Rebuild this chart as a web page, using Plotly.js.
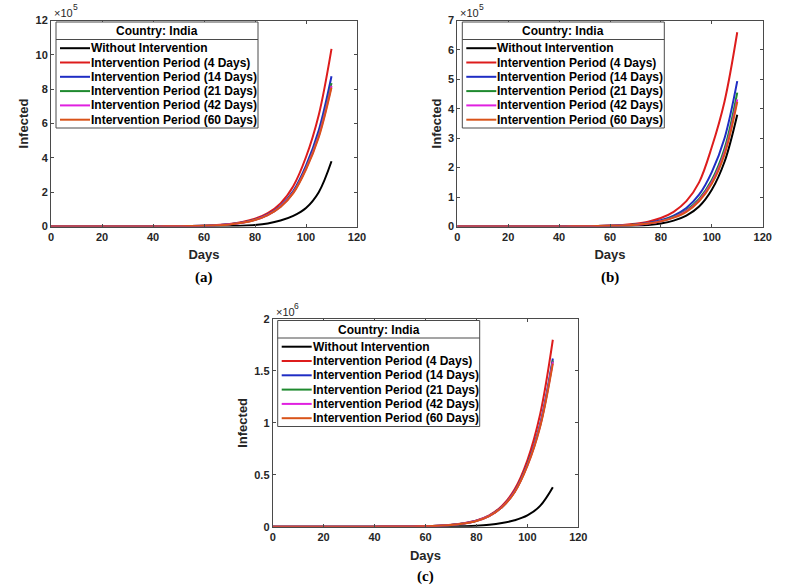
<!DOCTYPE html>
<html><head><meta charset="utf-8">
<script src="https://cdn.plot.ly/plotly-3.0.1.min.js"></script>
<style>html,body{margin:0;padding:0;background:#fff}#chart{width:800px;height:588px}</style>
</head><body><div id="chart"></div>
<script>
// ---------- DATA ----------
const days = [0,5,10,15,20,25,30,35,40,45,50,55,60,65,70,75,80,85,90,95,100,105,110];
const seriesNames = ['Without Intervention','Intervention Period (4 Days)','Intervention Period (14 Days)','Intervention Period (21 Days)','Intervention Period (42 Days)','Intervention Period (60 Days)'];
const seriesColors = ['#000000','#dd1c1c','#1f2dc4','#1f8a2f','#e020e0','#d95319'];
const legendTitle = 'Country: India';
const xTicks = [0,20,40,60,80,100,120];

// Panel (a), values in units of 10^5
const aWithout = [0.0001,0.00015,0.0002,0.0003,0.0004,0.0006,0.0009,0.0013,0.002,0.003,0.0045,0.0068,0.01,0.016,0.026,0.047,0.09,0.18,0.35,0.62,1.08,2.0,3.8];
const a4  = [0.0001,0.0002,0.0003,0.0005,0.0008,0.0013,0.002,0.0035,0.006,0.01,0.017,0.03,0.05,0.085,0.15,0.26,0.45,0.78,1.35,2.35,4.05,6.5,10.35];
const a14 = [0.0001,0.0002,0.0003,0.0005,0.0008,0.0012,0.002,0.0033,0.0055,0.009,0.015,0.026,0.045,0.075,0.13,0.23,0.40,0.70,1.2,2.07,3.55,5.6,8.75];
const a21 = [0.0001,0.0002,0.0003,0.0005,0.0008,0.0012,0.002,0.0033,0.0055,0.009,0.015,0.026,0.044,0.073,0.127,0.225,0.39,0.68,1.17,2.0,3.42,5.35,8.35];
const a42 = [0.0001,0.0002,0.0003,0.0005,0.0008,0.0012,0.002,0.0033,0.0055,0.009,0.015,0.025,0.044,0.072,0.125,0.22,0.385,0.67,1.15,1.97,3.37,5.28,8.2];
const a60 = [0.0001,0.0002,0.0003,0.0005,0.0008,0.0012,0.002,0.0033,0.0055,0.009,0.015,0.025,0.043,0.071,0.123,0.217,0.38,0.66,1.13,1.94,3.32,5.2,8.1];
const yTicksA = [0,2,4,6,8,10,12];

// Panel (b), values in units of 10^5
const bWithout = [0.0001,0.00015,0.0002,0.0003,0.0004,0.0006,0.0009,0.0013,0.002,0.003,0.0045,0.0068,0.01,0.016,0.028,0.053,0.105,0.2,0.37,0.68,1.25,2.2,3.8];
const b4  = [0.0001,0.0002,0.0003,0.0004,0.0007,0.001,0.0017,0.0028,0.0045,0.0075,0.012,0.02,0.033,0.055,0.095,0.165,0.29,0.5,0.86,1.5,2.7,4.25,6.6];
const b14 = [0.0001,0.00015,0.0002,0.0003,0.0005,0.0008,0.0013,0.002,0.0033,0.0055,0.009,0.015,0.025,0.04,0.068,0.12,0.21,0.37,0.63,1.08,1.85,3.0,4.94];
const b21 = [0.0001,0.00015,0.0002,0.0003,0.0005,0.0008,0.0013,0.002,0.0032,0.0053,0.0087,0.0145,0.024,0.038,0.064,0.11,0.19,0.33,0.55,0.94,1.58,2.65,4.55];
const b42 = [0.0001,0.00015,0.0002,0.0003,0.0005,0.0008,0.0012,0.0019,0.0031,0.0051,0.0084,0.014,0.023,0.036,0.061,0.104,0.18,0.31,0.52,0.89,1.5,2.52,4.32];
const b60 = [0.0001,0.00015,0.0002,0.0003,0.0005,0.0008,0.0012,0.0019,0.003,0.005,0.0082,0.0137,0.022,0.035,0.06,0.1,0.175,0.3,0.5,0.86,1.45,2.45,4.24];
const yTicksB = [0,1,2,3,4,5,6,7];

// Panel (c), values in units of 10^6
const cWithout = [0.00001,0.000015,0.00002,0.00003,0.00004,0.00006,0.00009,0.00013,0.0002,0.0003,0.00045,0.00068,0.001,0.0016,0.0026,0.0047,0.009,0.018,0.035,0.062,0.108,0.2,0.38];
const c4  = [0.00001,0.00002,0.00003,0.00004,0.00007,0.00012,0.0002,0.00035,0.0006,0.001,0.0017,0.003,0.0055,0.01,0.018,0.033,0.06,0.11,0.2,0.36,0.64,1.08,1.8];
const c14 = [0.00001,0.00002,0.00003,0.00004,0.00007,0.00011,0.00019,0.00033,0.00056,0.00095,0.0016,0.0028,0.0052,0.0095,0.017,0.031,0.057,0.105,0.19,0.34,0.6,0.985,1.62];
const c21 = [0.00001,0.00002,0.00003,0.00004,0.00007,0.00011,0.00019,0.00033,0.00056,0.00094,0.0016,0.0028,0.0051,0.0094,0.0168,0.0305,0.056,0.104,0.188,0.337,0.595,0.975,1.6];
const c42 = [0.00001,0.00002,0.00003,0.00004,0.00007,0.00011,0.00019,0.00033,0.00055,0.00093,0.0016,0.0028,0.0051,0.0093,0.0167,0.0303,0.056,0.103,0.187,0.335,0.59,0.97,1.59];
const c60 = [0.00001,0.00002,0.00003,0.00004,0.00007,0.00011,0.00018,0.00032,0.00055,0.00092,0.0016,0.0027,0.005,0.0092,0.0166,0.03,0.055,0.102,0.186,0.332,0.585,0.96,1.57];
const yTicksC = [0,0.5,1,1.5,2];
const yTickTextC = ['0','0.5','1','1.5','2'];

// ---------- LAYOUT ----------
const W = 800, H = 588;
const px = x => x / W;
const py = y => 1 - y / H;
const sans = 'Liberation Sans, Arial, Helvetica, sans-serif';
const serif = 'Liberation Serif, Times New Roman, serif';
const ink = '#262626';
const frame = '#4a4a4a';

const panels = [
  {ax:'', left:51, right:357, top:20.5, bottom:226.5, yMax:12, yTicks:yTicksA, yText:yTicksA.map(String), exp:'5', caption:'(a)', capY:277, series:[aWithout,a4,a14,a21,a42,a60]},
  {ax:'2', left:457.3, right:762.7, top:20.5, bottom:226.5, yMax:7, yTicks:yTicksB, yText:yTicksB.map(String), exp:'5', caption:'(b)', capY:277, series:[bWithout,b4,b14,b21,b42,b60]},
  {ax:'3', left:272.7, right:578.3, top:319, bottom:526.7, yMax:2, yTicks:yTicksC, yText:yTickTextC, exp:'6', caption:'(c)', capY:576, series:[cWithout,c4,c14,c21,c42,c60]}
];

const traces = [];
const layout = {
  width: W, height: H, margin:{l:0,r:0,t:0,b:0},
  paper_bgcolor:'#fff', plot_bgcolor:'#fff', showlegend:false,
  shapes:[], annotations:[]
};

function axisBase(domain, range, tickvals, ticktext, anchor, titleText, standoff) {
  return {
    domain, range, anchor, tickmode:'array', tickvals, ticktext,
    showline:true, linecolor:frame, linewidth:1, mirror:'ticks',
    ticks:'inside', ticklen:3, tickcolor:frame, tickwidth:1,
    showgrid:false, zeroline:false, fixedrange:true,
    tickfont:{family:sans, size:11, color:ink, weight:'bold'},
    title:{text:titleText, font:{family:sans, size:13, color:ink, weight:'bold'}, standoff}
  };
}

panels.forEach(p => {
  const xa = 'x' + p.ax, ya = 'y' + p.ax;
  p.series.forEach((vals, i) => {
    traces.push({
      type:'scatter', mode:'lines', x: days, y: vals, name: seriesNames[i],
      xaxis: xa, yaxis: ya,
      line:{color: seriesColors[i], width:2, shape:'spline', smoothing:1},
      hoverinfo:'skip'
    });
  });
  layout['xaxis' + p.ax] = axisBase([px(p.left), px(p.right)], [0,120], xTicks, xTicks.map(String), ya, 'Days', 8);
  layout['yaxis' + p.ax] = axisBase([py(p.bottom), py(p.top)], [0,p.yMax], p.yTicks, p.yText, xa, 'Infected', 3);

  // exponent label  (×10 with raised exponent)
  layout.annotations.push({xref:'paper', yref:'paper', x:px(p.left+1), y:py(p.top-7.5), xanchor:'left', yanchor:'middle',
    text:'×10', showarrow:false, font:{family:sans, size:11, color:ink}});
  layout.annotations.push({xref:'paper', yref:'paper', x:px(p.left+19.5), y:py(p.top-13), xanchor:'left', yanchor:'middle',
    text:p.exp, showarrow:false, font:{family:sans, size:8.5, color:ink}});
  // caption
  layout.annotations.push({xref:'paper', yref:'paper', x:px((p.left+p.right)/2), y:py(p.capY), xanchor:'center', yanchor:'middle',
    text:p.caption, showarrow:false, font:{family:serif, size:15, color:'#000', weight:'bold'}});

  // legend box (MATLAB-style)
  const L = p.left + 5, T = p.top + 1.5, Wd = 202, Hd = 106;
  layout.shapes.push({type:'rect', xref:'paper', yref:'paper', x0:px(L), x1:px(L+Wd), y0:py(T), y1:py(T+Hd),
    line:{color:frame, width:1}, fillcolor:'#fff', layer:'above'});
  layout.shapes.push({type:'line', xref:'paper', yref:'paper', x0:px(L), x1:px(L+Wd), y0:py(T+17.5), y1:py(T+17.5),
    line:{color:frame, width:1}, layer:'above'});
  layout.annotations.push({xref:'paper', yref:'paper', x:px(L+Wd/2), y:py(T+9), xanchor:'center', yanchor:'middle',
    text:legendTitle, showarrow:false, font:{family:sans, size:12, color:'#000', weight:'bold'}});
  seriesNames.forEach((nm, i) => {
    const yy = T + 26.2 + 14.3 * i;
    layout.shapes.push({type:'line', xref:'paper', yref:'paper', x0:px(L+4), x1:px(L+34), y0:py(yy), y1:py(yy),
      line:{color:seriesColors[i], width:2}, layer:'above'});
    layout.annotations.push({xref:'paper', yref:'paper', x:px(L+33), y:py(yy), xanchor:'left', yanchor:'middle',
      text:nm, showarrow:false, font:{family:sans, size:12, color:'#000', weight:'bold'}});
  });
});

Plotly.newPlot('chart', traces, layout, {staticPlot:true, displayModeBar:false});
</script>
</body></html>
